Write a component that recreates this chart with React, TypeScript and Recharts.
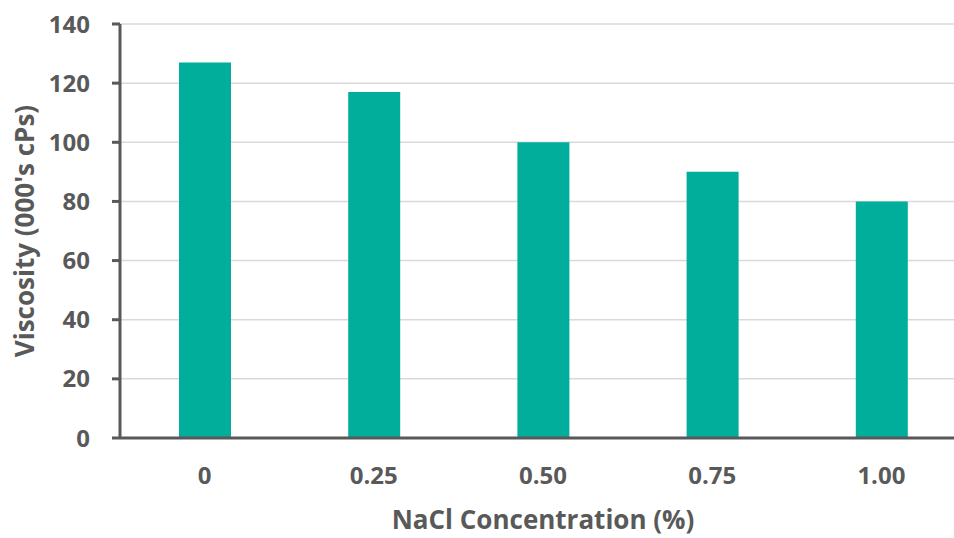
import { BarChart, Bar, XAxis, YAxis, CartesianGrid, Label } from 'recharts'

const CONCENTRATIONS = ['0', '0.25', '0.50', '0.75', '1.00']
const VISCOSITY = [127, 117, 100, 90, 80]
const Y_TICKS = [0, 20, 40, 60, 80, 100, 120, 140]

const data = CONCENTRATIONS.map((c, i) => ({ name: c, value: VISCOSITY[i] }))

const AXIS_COLOR = '#595959'
const FONT = '"Open Sans", sans-serif'

export default function App() {
  return (
    <div style={{ position: 'fixed', left: 0, top: 0, width: 954, height: 538, overflow: 'hidden', background: '#fff' }}>
      <BarChart
        width={970}
        height={538}
        data={data}
        margin={{ top: 24, right: 4, bottom: 40, left: 0 }}
        barCategoryGap={0}
      >
        <CartesianGrid vertical={false} stroke="#d9d9d9" strokeWidth={1.5} />
        <XAxis
          dataKey="name"
          axisLine={{ stroke: AXIS_COLOR, strokeWidth: 3 }}
          tickLine={false}
          tickSize={0}
          tickMargin={29}
          height={60}
          tick={{ fontSize: 24, fontWeight: 700, fill: AXIS_COLOR, fontFamily: FONT }}
        >
          <Label
            content={() => (
              <text x={543} y={529} textAnchor="middle" fontSize={26} fontWeight={700} fill={AXIS_COLOR} fontFamily={FONT}>
                NaCl Concentration (%)
              </text>
            )}
          />
        </XAxis>
        <YAxis
          width={120}
          domain={[0, 140]}
          ticks={Y_TICKS}
          interval={0}
          axisLine={{ stroke: AXIS_COLOR, strokeWidth: 3 }}
          tickLine={{ stroke: AXIS_COLOR, strokeWidth: 3 }}
          tickSize={8}
          tickMargin={22}
          tick={{ fontSize: 24, fontWeight: 700, fill: AXIS_COLOR, fontFamily: FONT }}
        >
          <Label
            content={() => (
              <text x={24} y={231} transform="rotate(-90 24 231)" textAnchor="middle" dominantBaseline="central" fontSize={26} fontWeight={700} fill={AXIS_COLOR} fontFamily={FONT}>
                Viscosity (000's cPs)
              </text>
            )}
          />
        </YAxis>
        <Bar dataKey="value" fill="#00ae9b" barSize={52} isAnimationActive={false} />
      </BarChart>
    </div>
  )
}
